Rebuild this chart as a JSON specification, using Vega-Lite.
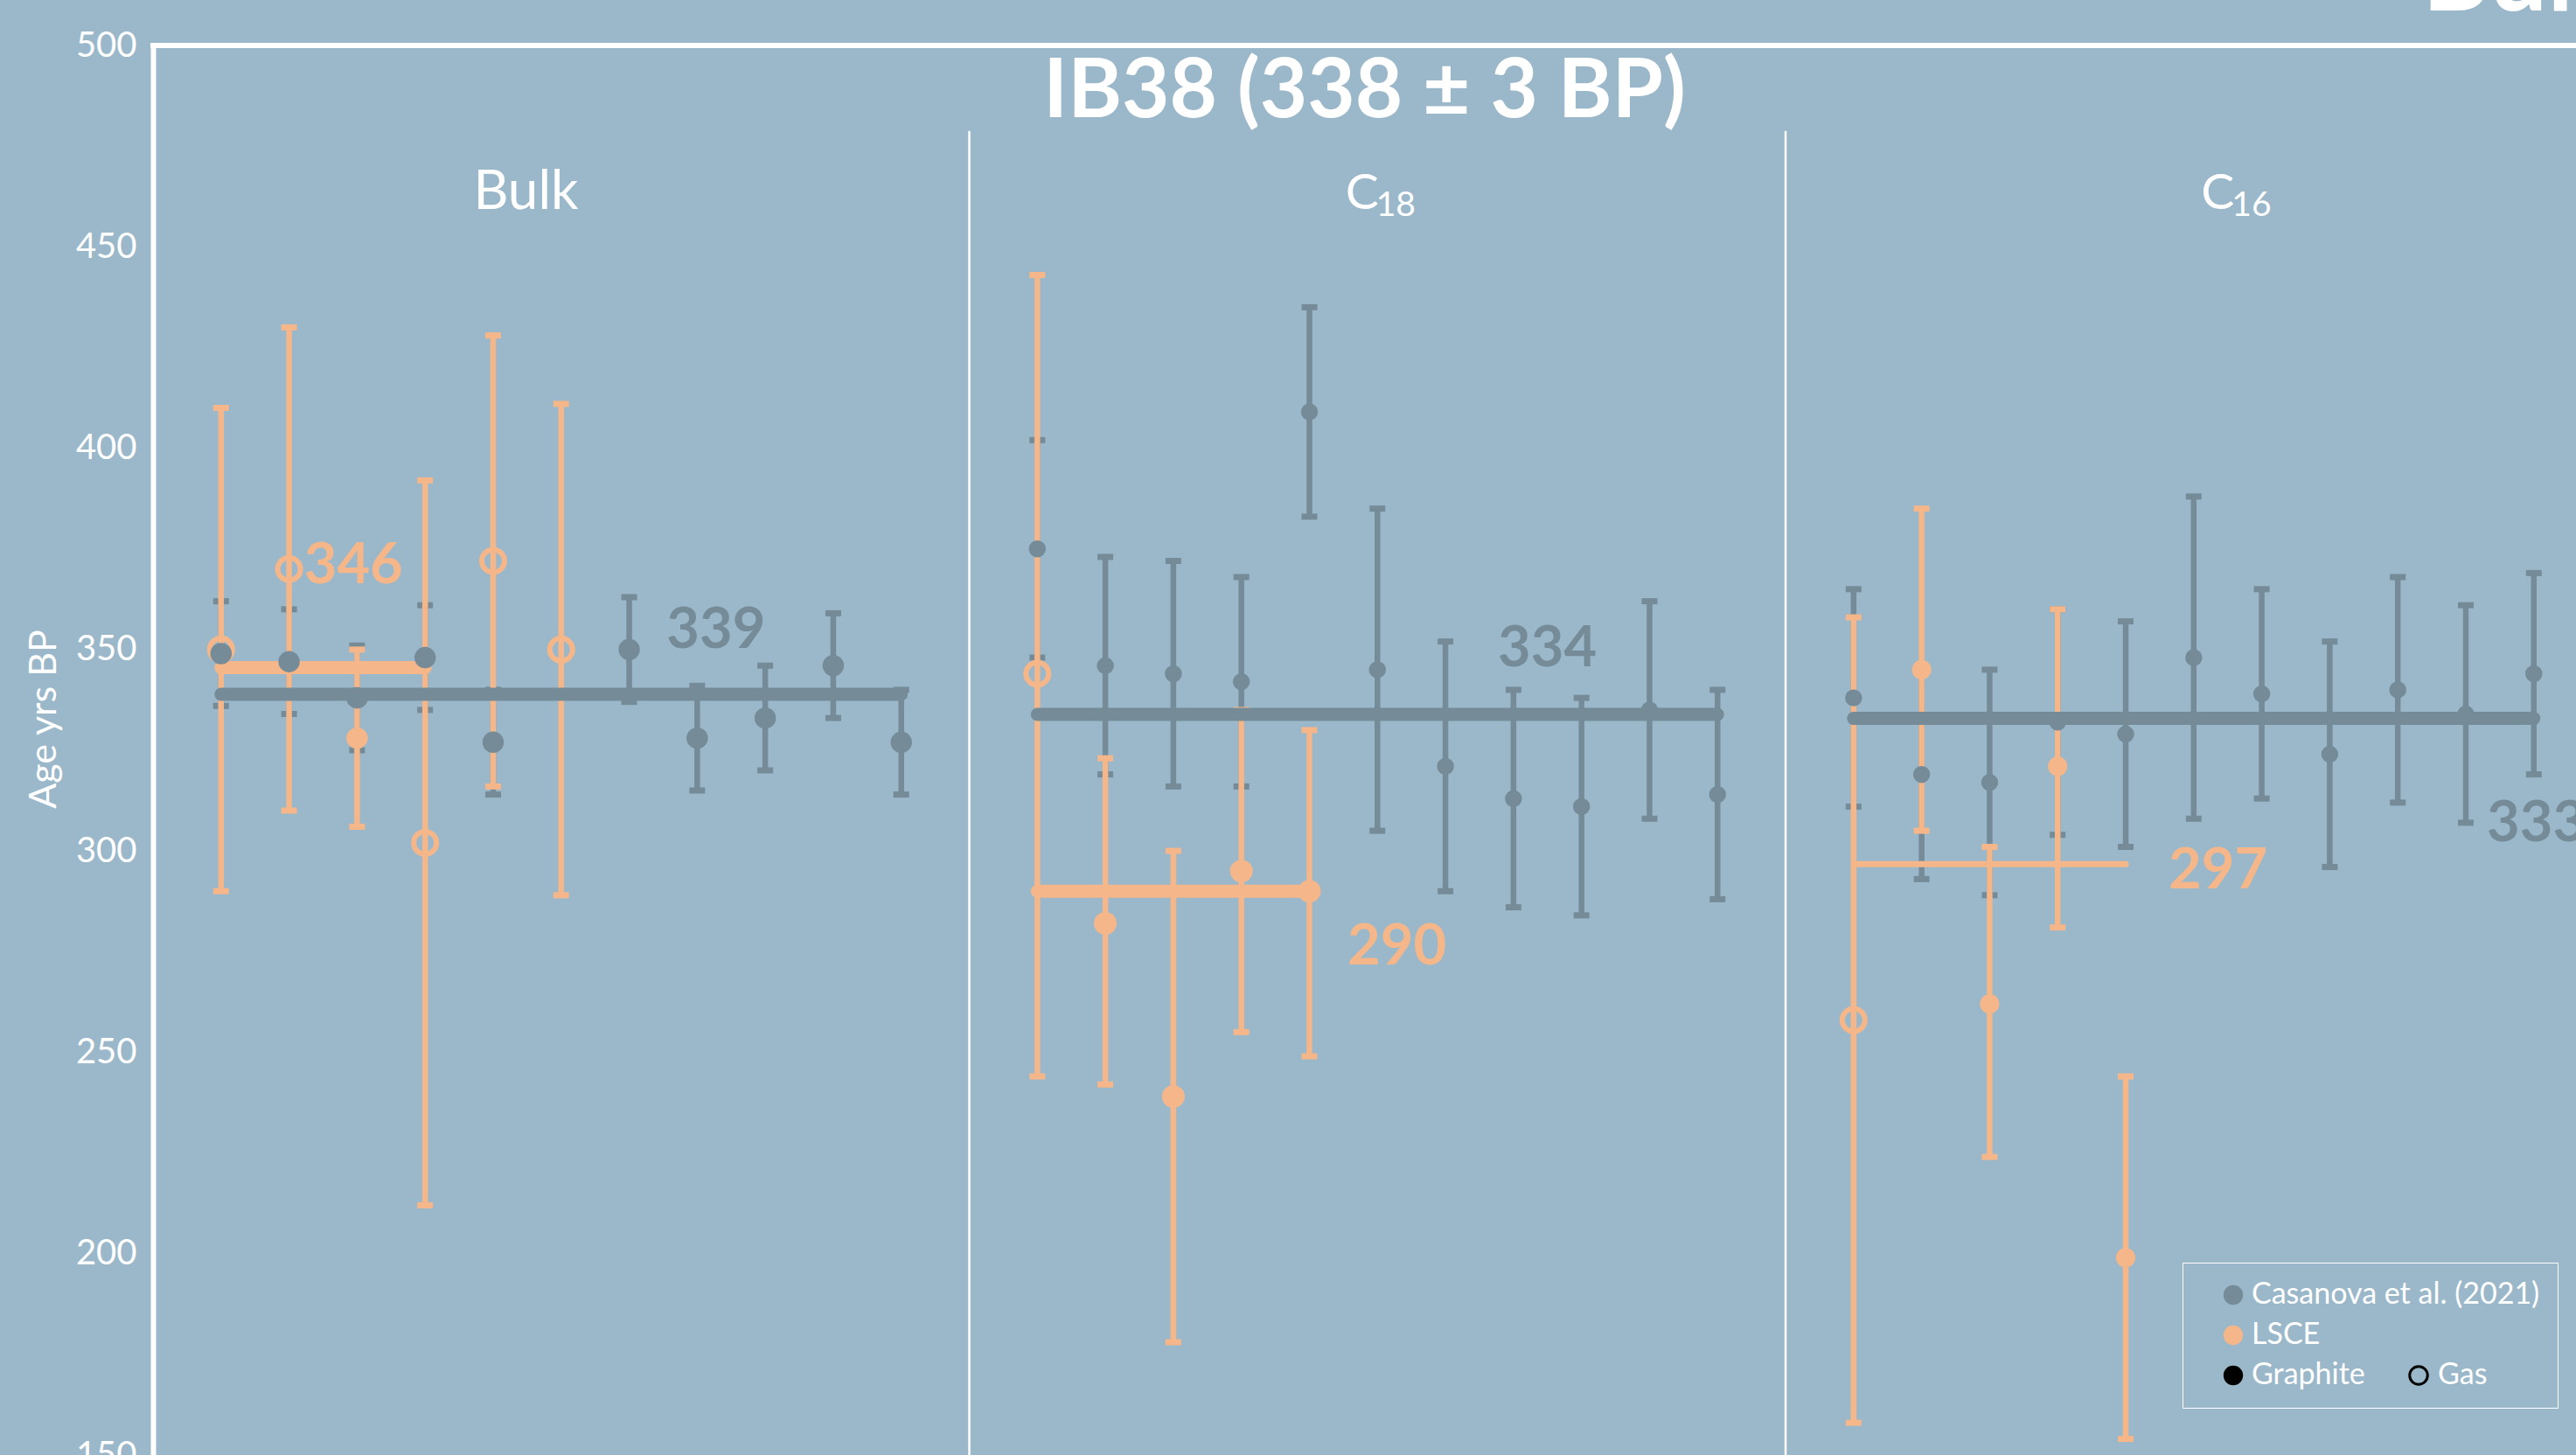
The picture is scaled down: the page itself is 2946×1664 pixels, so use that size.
{
  "$schema": "https://vega.github.io/schema/vega-lite/v6.json",
  "width": 2771,
  "height": 1612,
  "autosize": {"type": "none"},
  "padding": {"left": 175, "top": 52, "right": 0, "bottom": 0},
  "background": "#9BB8CA",
  "title": {"text": "IB38 (338 ± 3 BP)", "anchor": "middle", "frame": "group", "color": "white", "fontSize": 94, "fontWeight": "bold", "font": "Lato", "offset": -236},
  "datasets": {
    "measurements": [
      {"source": "LSCE", "panel": "Bulk", "idx": 0, "type": "Gas", "age": 350, "lo": 290, "hi": 410},
      {"source": "LSCE", "panel": "Bulk", "idx": 1, "type": "Gas", "age": 370, "lo": 310, "hi": 430},
      {"source": "LSCE", "panel": "Bulk", "idx": 2, "type": "Graphite", "age": 328, "lo": 306, "hi": 350},
      {"source": "LSCE", "panel": "Bulk", "idx": 3, "type": "Gas", "age": 302, "lo": 212, "hi": 392},
      {"source": "LSCE", "panel": "Bulk", "idx": 4, "type": "Gas", "age": 372, "lo": 316, "hi": 428},
      {"source": "LSCE", "panel": "Bulk", "idx": 5, "type": "Gas", "age": 350, "lo": 289, "hi": 411},
      {"source": "LSCE", "panel": "C18", "idx": 12, "type": "Gas", "age": 344, "lo": 244, "hi": 443},
      {"source": "LSCE", "panel": "C18", "idx": 13, "type": "Graphite", "age": 282, "lo": 242, "hi": 323},
      {"source": "LSCE", "panel": "C18", "idx": 14, "type": "Graphite", "age": 239, "lo": 178, "hi": 300},
      {"source": "LSCE", "panel": "C18", "idx": 15, "type": "Graphite", "age": 295, "lo": 255, "hi": 335},
      {"source": "LSCE", "panel": "C18", "idx": 16, "type": "Graphite", "age": 290, "lo": 249, "hi": 330},
      {"source": "LSCE", "panel": "C16", "idx": 24, "type": "Gas", "age": 258, "lo": 158, "hi": 358},
      {"source": "LSCE", "panel": "C16", "idx": 25, "type": "Graphite", "age": 345, "lo": 305, "hi": 385},
      {"source": "LSCE", "panel": "C16", "idx": 26, "type": "Graphite", "age": 262, "lo": 224, "hi": 301},
      {"source": "LSCE", "panel": "C16", "idx": 27, "type": "Graphite", "age": 321, "lo": 281, "hi": 360},
      {"source": "LSCE", "panel": "C16", "idx": 28, "type": "Graphite", "age": 199, "lo": 154, "hi": 244},
      {"source": "Casanova et al. (2021)", "panel": "Bulk", "idx": 0, "type": "Graphite", "age": 349, "lo": 336, "hi": 362},
      {"source": "Casanova et al. (2021)", "panel": "Bulk", "idx": 1, "type": "Graphite", "age": 347, "lo": 334, "hi": 360},
      {"source": "Casanova et al. (2021)", "panel": "Bulk", "idx": 2, "type": "Graphite", "age": 338, "lo": 325, "hi": 351},
      {"source": "Casanova et al. (2021)", "panel": "Bulk", "idx": 3, "type": "Graphite", "age": 348, "lo": 335, "hi": 361},
      {"source": "Casanova et al. (2021)", "panel": "Bulk", "idx": 4, "type": "Graphite", "age": 327, "lo": 314, "hi": 340},
      {"source": "Casanova et al. (2021)", "panel": "Bulk", "idx": 6, "type": "Graphite", "age": 350, "lo": 337, "hi": 363},
      {"source": "Casanova et al. (2021)", "panel": "Bulk", "idx": 7, "type": "Graphite", "age": 328, "lo": 315, "hi": 341},
      {"source": "Casanova et al. (2021)", "panel": "Bulk", "idx": 8, "type": "Graphite", "age": 333, "lo": 320, "hi": 346},
      {"source": "Casanova et al. (2021)", "panel": "Bulk", "idx": 9, "type": "Graphite", "age": 346, "lo": 333, "hi": 359},
      {"source": "Casanova et al. (2021)", "panel": "Bulk", "idx": 10, "type": "Graphite", "age": 327, "lo": 314, "hi": 340},
      {"source": "Casanova et al. (2021)", "panel": "C18", "idx": 12, "type": "Graphite", "age": 375, "lo": 348, "hi": 402},
      {"source": "Casanova et al. (2021)", "panel": "C18", "idx": 13, "type": "Graphite", "age": 346, "lo": 319, "hi": 373},
      {"source": "Casanova et al. (2021)", "panel": "C18", "idx": 14, "type": "Graphite", "age": 344, "lo": 316, "hi": 372},
      {"source": "Casanova et al. (2021)", "panel": "C18", "idx": 15, "type": "Graphite", "age": 342, "lo": 316, "hi": 368},
      {"source": "Casanova et al. (2021)", "panel": "C18", "idx": 16, "type": "Graphite", "age": 409, "lo": 383, "hi": 435},
      {"source": "Casanova et al. (2021)", "panel": "C18", "idx": 17, "type": "Graphite", "age": 345, "lo": 305, "hi": 385},
      {"source": "Casanova et al. (2021)", "panel": "C18", "idx": 18, "type": "Graphite", "age": 321, "lo": 290, "hi": 352},
      {"source": "Casanova et al. (2021)", "panel": "C18", "idx": 19, "type": "Graphite", "age": 313, "lo": 286, "hi": 340},
      {"source": "Casanova et al. (2021)", "panel": "C18", "idx": 20, "type": "Graphite", "age": 311, "lo": 284, "hi": 338},
      {"source": "Casanova et al. (2021)", "panel": "C18", "idx": 21, "type": "Graphite", "age": 335, "lo": 308, "hi": 362},
      {"source": "Casanova et al. (2021)", "panel": "C18", "idx": 22, "type": "Graphite", "age": 314, "lo": 288, "hi": 340},
      {"source": "Casanova et al. (2021)", "panel": "C16", "idx": 24, "type": "Graphite", "age": 338, "lo": 311, "hi": 365},
      {"source": "Casanova et al. (2021)", "panel": "C16", "idx": 25, "type": "Graphite", "age": 319, "lo": 293, "hi": 345},
      {"source": "Casanova et al. (2021)", "panel": "C16", "idx": 26, "type": "Graphite", "age": 317, "lo": 289, "hi": 345},
      {"source": "Casanova et al. (2021)", "panel": "C16", "idx": 27, "type": "Graphite", "age": 332, "lo": 304, "hi": 360},
      {"source": "Casanova et al. (2021)", "panel": "C16", "idx": 28, "type": "Graphite", "age": 329, "lo": 301, "hi": 357},
      {"source": "Casanova et al. (2021)", "panel": "C16", "idx": 29, "type": "Graphite", "age": 348, "lo": 308, "hi": 388},
      {"source": "Casanova et al. (2021)", "panel": "C16", "idx": 30, "type": "Graphite", "age": 339, "lo": 313, "hi": 365},
      {"source": "Casanova et al. (2021)", "panel": "C16", "idx": 31, "type": "Graphite", "age": 324, "lo": 296, "hi": 352},
      {"source": "Casanova et al. (2021)", "panel": "C16", "idx": 32, "type": "Graphite", "age": 340, "lo": 312, "hi": 368},
      {"source": "Casanova et al. (2021)", "panel": "C16", "idx": 33, "type": "Graphite", "age": 334, "lo": 307, "hi": 361},
      {"source": "Casanova et al. (2021)", "panel": "C16", "idx": 34, "type": "Graphite", "age": 344, "lo": 319, "hi": 369}
    ],
    "means": [
      {"source": "LSCE", "panel": "Bulk", "start": 0, "end": 3, "mean": 345.5, "label": "346", "labelIdx": 1.22, "labelAge": 366.5},
      {"source": "LSCE", "panel": "C18", "start": 12, "end": 16, "mean": 290, "label": "290", "labelIdx": 16.56, "labelAge": 271.8},
      {"source": "LSCE", "panel": "C16", "start": 24, "end": 28, "mean": 296.7, "label": "297", "labelIdx": 28.63, "labelAge": 290.7},
      {"source": "Casanova et al. (2021)", "panel": "Bulk", "start": 0, "end": 10, "mean": 338.9, "label": "339", "labelIdx": 6.55, "labelAge": 350.5},
      {"source": "Casanova et al. (2021)", "panel": "C18", "start": 12, "end": 22, "mean": 333.9, "label": "334", "labelIdx": 18.77, "labelAge": 345.9},
      {"source": "Casanova et al. (2021)", "panel": "C16", "start": 24, "end": 34, "mean": 332.9, "label": "333", "labelIdx": 33.31, "labelAge": 302.5}
    ],
    "panels": [
      {"panel": "Bulk", "main": "Bulk", "sub": "", "labelIdx": 3.71},
      {"panel": "C18", "main": "C", "sub": "18", "labelIdx": 16.53},
      {"panel": "C16", "main": "C", "sub": "16", "labelIdx": 29.11}
    ],
    "separators": [{"boundary": 11}, {"boundary": 23}],
    "frame": [{"edge": "top"}],
    "corner": [{"text": "Bulk"}]
  },
  "layer": [
    {
      "data": {"name": "separators"},
      "mark": {"type": "rule", "color": "white", "strokeWidth": 2.5},
      "encoding": {
        "x": {"field": "boundary", "type": "quantitative", "scale": {"domain": [-1, 34.62], "nice": false, "zero": false}, "axis": null},
        "y": {"datum": 478.8, "type": "quantitative", "scale": {"domain": [150, 500], "nice": false, "zero": false}, "title": "Age yrs BP", "axis": {"values": [150, 200, 250, 300, 350, 400, 450, 500], "titleY": 770}},
        "y2": {"datum": 150}
      }
    },
    {
      "data": {"name": "frame"},
      "mark": {"type": "rule", "color": "white", "strokeWidth": 6, "strokeCap": "square"},
      "encoding": {
        "y": {"datum": 500, "type": "quantitative", "scale": {"domain": [150, 500], "nice": false, "zero": false}, "title": "Age yrs BP"}
      }
    },
    {
      "data": {"name": "measurements"},
      "transform": [{"filter": {"field": "source", "equal": "Casanova et al. (2021)"}}],
      "layer": [
        {
          "mark": {"type": "rule", "color": "#758B98", "strokeWidth": 6.5},
          "encoding": {
            "x": {"field": "idx", "type": "quantitative", "scale": {"domain": [-1, 34.62], "nice": false, "zero": false}, "axis": null},
            "y": {"field": "lo", "type": "quantitative", "scale": {"domain": [150, 500], "nice": false, "zero": false}, "title": "Age yrs BP"},
            "y2": {"field": "hi"}
          }
        },
        {
          "mark": {"type": "tick", "orient": "horizontal", "color": "#758B98", "size": 18, "thickness": 7, "opacity": 1},
          "encoding": {
            "x": {"field": "idx", "type": "quantitative", "scale": {"domain": [-1, 34.62], "nice": false, "zero": false}, "axis": null},
            "y": {"field": "lo", "type": "quantitative", "scale": {"domain": [150, 500], "nice": false, "zero": false}, "title": "Age yrs BP"}
          }
        },
        {
          "mark": {"type": "tick", "orient": "horizontal", "color": "#758B98", "size": 18, "thickness": 7, "opacity": 1},
          "encoding": {
            "x": {"field": "idx", "type": "quantitative", "scale": {"domain": [-1, 34.62], "nice": false, "zero": false}, "axis": null},
            "y": {"field": "hi", "type": "quantitative", "scale": {"domain": [150, 500], "nice": false, "zero": false}, "title": "Age yrs BP"}
          }
        }
      ]
    },
    {
      "data": {"name": "measurements"},
      "transform": [{"filter": {"field": "source", "equal": "LSCE"}}],
      "layer": [
        {
          "mark": {"type": "rule", "color": "#F5B689", "strokeWidth": 6.5},
          "encoding": {
            "x": {"field": "idx", "type": "quantitative", "scale": {"domain": [-1, 34.62], "nice": false, "zero": false}, "axis": null},
            "y": {"field": "lo", "type": "quantitative", "scale": {"domain": [150, 500], "nice": false, "zero": false}, "title": "Age yrs BP"},
            "y2": {"field": "hi"}
          }
        },
        {
          "mark": {"type": "tick", "orient": "horizontal", "color": "#F5B689", "size": 18, "thickness": 7, "opacity": 1},
          "encoding": {
            "x": {"field": "idx", "type": "quantitative", "scale": {"domain": [-1, 34.62], "nice": false, "zero": false}, "axis": null},
            "y": {"field": "lo", "type": "quantitative", "scale": {"domain": [150, 500], "nice": false, "zero": false}, "title": "Age yrs BP"}
          }
        },
        {
          "mark": {"type": "tick", "orient": "horizontal", "color": "#F5B689", "size": 18, "thickness": 7, "opacity": 1},
          "encoding": {
            "x": {"field": "idx", "type": "quantitative", "scale": {"domain": [-1, 34.62], "nice": false, "zero": false}, "axis": null},
            "y": {"field": "hi", "type": "quantitative", "scale": {"domain": [150, 500], "nice": false, "zero": false}, "title": "Age yrs BP"}
          }
        }
      ]
    },
    {
      "data": {"name": "means"},
      "mark": {"type": "rule", "strokeCap": "round"},
      "encoding": {
        "x": {"field": "start", "type": "quantitative", "scale": {"domain": [-1, 34.62], "nice": false, "zero": false}, "axis": null},
        "x2": {"field": "end"},
        "y": {"field": "mean", "type": "quantitative", "scale": {"domain": [150, 500], "nice": false, "zero": false}, "title": "Age yrs BP"},
        "color": {"condition": {"test": "datum.source === 'LSCE'", "value": "#F5B689"}, "value": "#758B98"},
        "strokeWidth": {"condition": {"test": "datum.source === 'LSCE' && datum.panel === 'C16'", "value": 7}, "value": 15}
      }
    },
    {
      "data": {"name": "measurements"},
      "transform": [{"filter": {"field": "type", "equal": "Gas"}}],
      "mark": {"type": "point", "shape": "circle", "filled": false, "color": "#F5B689", "strokeWidth": 6, "opacity": 1, "size": 680},
      "encoding": {
        "x": {"field": "idx", "type": "quantitative", "scale": {"domain": [-1, 34.62], "nice": false, "zero": false}, "axis": null},
        "y": {"field": "age", "type": "quantitative", "scale": {"domain": [150, 500], "nice": false, "zero": false}, "title": "Age yrs BP"},
        "shape": {
          "field": "type", "type": "nominal",
          "scale": {"domain": ["Gas"], "range": ["circle"]},
          "legend": {
            "title": null, "orient": "none", "legendX": 2574, "legendY": 1504, "padding": 0,
            "labelOffset": 5, "symbolSize": 420, "symbolType": "circle", "labelLimit": 0,
            "labelFontSize": 34, "labelColor": "white", "labelFont": "Lato",
            "symbolStrokeColor": "black", "symbolStrokeWidth": 3, "symbolFillColor": "transparent",
            "encode": {"symbols": {"update": {"stroke": {"value": "black"}, "fill": {"value": "transparent"}, "strokeWidth": {"value": 3}, "size": {"value": 420}, "opacity": {"value": 1}}}}
          }
        }
      }
    },
    {
      "data": {"name": "measurements"},
      "transform": [{"filter": {"field": "type", "equal": "Graphite"}}],
      "mark": {"type": "point", "shape": "circle", "filled": true, "opacity": 1, "strokeWidth": 0},
      "encoding": {
        "x": {"field": "idx", "type": "quantitative", "scale": {"domain": [-1, 34.62], "nice": false, "zero": false}, "axis": null},
        "y": {"field": "age", "type": "quantitative", "scale": {"domain": [150, 500], "nice": false, "zero": false}, "title": "Age yrs BP"},
        "fill": {
          "field": "source", "type": "nominal",
          "scale": {"domain": ["Casanova et al. (2021)", "LSCE", "Graphite"], "range": ["#758B98", "#F5B689", "#000000"]},
          "legend": {
            "title": null, "orient": "none", "legendX": 2321, "legendY": 1392,
            "strokeColor": "white", "padding": 20, "symbolOffset": 21, "labelOffset": 4, "rowPadding": 12,
            "symbolSize": 500, "symbolType": "circle", "labelLimit": 0,
            "labelFontSize": 34, "labelColor": "white", "labelFont": "Lato",
            "encode": {
              "legend": {"update": {"strokeWidth": {"value": 3}}},
              "symbols": {"update": {"size": {"value": 500}, "opacity": {"value": 1}, "strokeWidth": {"value": 0}}}
            }
          }
        },
        "size": {
          "condition": [
            {"test": "datum.panel === 'Bulk'", "value": 600},
            {"test": "datum.source === 'LSCE' && datum.panel === 'C18'", "value": 680},
            {"test": "datum.source === 'LSCE'", "value": 490}
          ],
          "value": 380
        }
      }
    },
    {
      "data": {"name": "means"},
      "mark": {"type": "text", "align": "left", "baseline": "alphabetic", "fontSize": 65, "fontWeight": "bold", "font": "Lato"},
      "encoding": {
        "x": {"field": "labelIdx", "type": "quantitative", "scale": {"domain": [-1, 34.62], "nice": false, "zero": false}, "axis": null},
        "y": {"field": "labelAge", "type": "quantitative", "scale": {"domain": [150, 500], "nice": false, "zero": false}, "title": "Age yrs BP"},
        "text": {"field": "label"},
        "color": {"condition": {"test": "datum.source === 'LSCE'", "value": "#F5B689"}, "value": "#758B98"}
      }
    },
    {
      "data": {"name": "panels"},
      "mark": {"type": "text", "align": "left", "baseline": "alphabetic", "color": "white", "font": "Lato"},
      "encoding": {
        "x": {"field": "labelIdx", "type": "quantitative", "scale": {"domain": [-1, 34.62], "nice": false, "zero": false}, "axis": null},
        "y": {"datum": 459.3, "type": "quantitative", "scale": {"domain": [150, 500], "nice": false, "zero": false}, "title": "Age yrs BP"},
        "text": {"field": "main"},
        "size": {"condition": {"test": "datum.panel === 'Bulk'", "value": 62}, "value": 57}
      }
    },
    {
      "data": {"name": "panels"},
      "mark": {"type": "text", "align": "left", "baseline": "alphabetic", "color": "white", "font": "Lato", "fontSize": 39, "dx": 35, "dy": 8},
      "encoding": {
        "x": {"field": "labelIdx", "type": "quantitative", "scale": {"domain": [-1, 34.62], "nice": false, "zero": false}, "axis": null},
        "y": {"datum": 459.3, "type": "quantitative", "scale": {"domain": [150, 500], "nice": false, "zero": false}, "title": "Age yrs BP"},
        "text": {"field": "sub"}
      }
    },
    {
      "data": {"name": "corner"},
      "mark": {"type": "text", "align": "left", "baseline": "alphabetic", "color": "white", "font": "Lato", "fontSize": 118, "fontWeight": "bold"},
      "encoding": {
        "x": {"datum": 32.36, "type": "quantitative", "scale": {"domain": [-1, 34.62], "nice": false, "zero": false}, "axis": null},
        "y": {"datum": 508.65, "type": "quantitative", "scale": {"domain": [150, 500], "nice": false, "zero": false}, "title": "Age yrs BP"},
        "text": {"field": "text"}
      }
    }
  ],
  "config": {
    "font": "Lato",
    "view": {"stroke": null},
    "point": {"opacity": 1},
    "tick": {"opacity": 1},
    "axisY": {
      "domainColor": "white", "domainWidth": 6, "ticks": false, "tickSize": 0, "grid": false,
      "labelColor": "white", "labelFont": "Lato", "labelFontSize": 40, "labelPadding": 19,
      "titleColor": "white", "titleFont": "Lato", "titleFontSize": 43, "titleFontWeight": "normal", "titlePadding": 14
    }
  }
}
